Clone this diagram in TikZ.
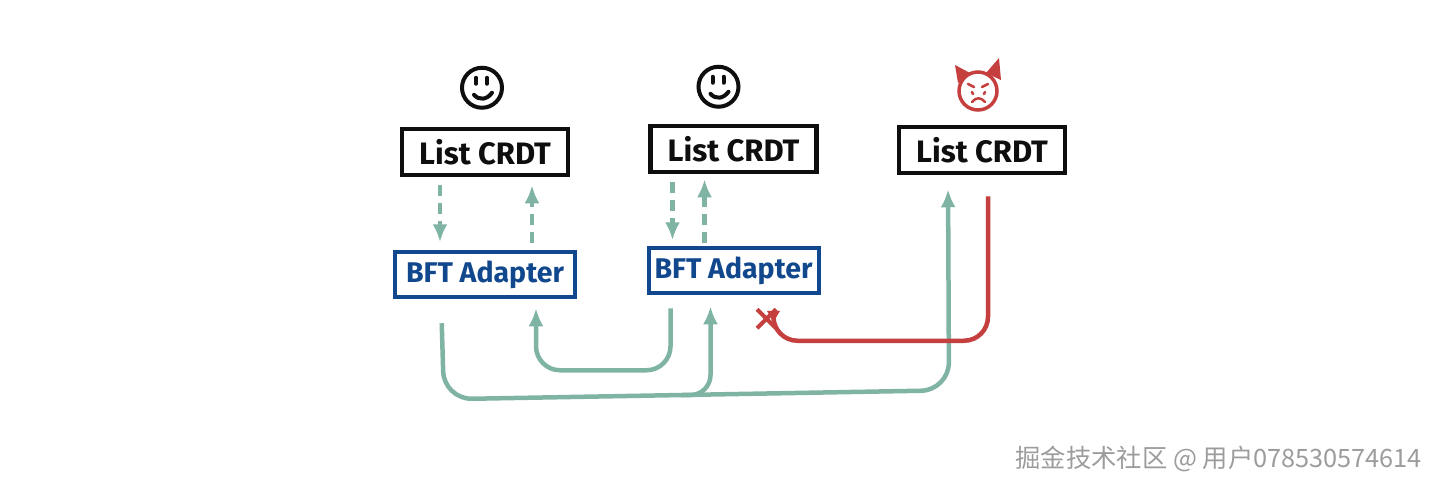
\documentclass[tikz,border=0pt]{standalone}
\usepackage{fontspec}
\setmainfont{Fira Sans}
\newfontfamily\cjk{Noto Sans CJK SC}
\usetikzlibrary{arrows.meta, positioning, shapes.misc}
\definecolor{cInk}{HTML}{0E0E0E}
\definecolor{cBft}{HTML}{11478D}
\definecolor{cLink}{HTML}{7FB3A3}
\definecolor{cEvil}{HTML}{C63F3F}
\definecolor{cMark}{HTML}{9C9C9C}

\begin{document}
\begin{tikzpicture}[x=1pt, y=-1pt, every node/.style={inner sep=0pt},
  crdt/.style={draw=cInk, line width=4.5pt, minimum width=166pt, minimum height=46pt, text=cInk, font=\fontsize{31}{34}\selectfont\bfseries},
  adapter/.style={draw=cBft, line width=4pt, minimum width=180pt, minimum height=45pt, text=cBft, font=\fontsize{28.5}{32}\selectfont\bfseries},
  smile/.style={draw=cInk, circle, line width=4pt, minimum size=40pt},
  devil/.style={draw=cEvil, circle, line width=3.5pt, minimum size=38pt},
  arr/.style={-{Latex[length=18pt, width=15pt]}, cLink, line width=4.5pt},
  dasharr/.style={arr, dashed, dash pattern=on 11pt off 7pt},
  evilarr/.style={-{Latex[length=14pt, width=14pt]}, cEvil, line width=4.5pt}]
  \useasboundingbox (0,0) rectangle (1438,490);
  \node[crdt] (list1) at (485,152) {List CRDT};
  \node[crdt, right=78pt of list1, yshift=3pt] (list2) {List CRDT};
  \node[crdt, right=78pt of list2, yshift=-1pt] (list3) {List CRDT};
  \node[adapter, below=73pt of list1] (bft1) {BFT Adapter};
  \node[adapter, minimum width=170pt, below=72pt of list2] (bft2) {BFT Adapter};
  \node[smile, above=17pt of list1, xshift=-3pt] (face1) {};
  \node[smile, above=15pt of list2, xshift=-15pt] (face2) {};
  \node[devil, above=13pt of list3, xshift=-4pt] (face3) {};
  \node[draw=cEvil, cross out, line width=4pt, minimum size=15pt, below=14pt of bft2, xshift=33pt] (block) {};
  \node[text=cMark, anchor=east, font=\cjk\fontsize{25.3}{28}\selectfont] (mark) at (1422,459) {掘金技术社区 @ 用户078530574614};

  \foreach \f in {face1,face2} {
    \draw[cInk, line width=4pt, line cap=round] ([shift={(-6,-10)}]\f.center) -- ([shift={(-6,-4)}]\f.center);
    \draw[cInk, line width=4pt, line cap=round] ([shift={(5,-10)}]\f.center) -- ([shift={(5,-4)}]\f.center);
    \draw[cInk, line width=4pt, line cap=round] ([shift={(-8,7)}]\f.center) .. controls ([shift={(-3,13)}]\f.center) and ([shift={(5,12)}]\f.center) .. ([shift={(10,5)}]\f.center);
  }
  % horns and angry face
  \fill[cEvil] ([shift={(-20,-8)}]face3.center) -- ([shift={(-23,-26)}]face3.center) -- ([shift={(-8,-18)}]face3.center) -- cycle;
  \fill[cEvil] ([shift={(8,-18)}]face3.center) -- ([shift={(21,-33)}]face3.center) -- ([shift={(23,-11)}]face3.center) -- cycle;
  \draw[cEvil, line width=2.5pt, line cap=round] ([shift={(-10,-7)}]face3.center) -- ([shift={(-4,-4)}]face3.center);
  \draw[cEvil, line width=2.5pt, line cap=round] ([shift={(4,-4)}]face3.center) -- ([shift={(10,-7)}]face3.center);
  \draw[cEvil, line width=2.5pt, line cap=round] ([shift={(-6,1)}]face3.center) -- ([shift={(-5,3)}]face3.center);
  \draw[cEvil, line width=2.5pt, line cap=round] ([shift={(7,1)}]face3.center) -- ([shift={(6,3)}]face3.center);
  \draw[cEvil, line width=2.5pt, line cap=round] ([shift={(-6,11)}]face3.center) .. controls ([shift={(-2,6)}]face3.center) and ([shift={(3,6)}]face3.center) .. ([shift={(7,11)}]face3.center);

  % dashed links between crdt and adapter
  \draw[dasharr, shorten <=8pt, shorten >=8pt] ([xshift=-45pt]list1.south) -- ([xshift=-45pt]bft1.north);
  \draw[dasharr, shorten <=7pt, shorten >=8pt] ([xshift=47pt]bft1.north) -- ([xshift=47pt]list1.south);
  \draw[dasharr, shorten <=8pt, shorten >=6pt] ([xshift=-61pt]list2.south) -- ([xshift=-61pt]bft2.north);
  \draw[dasharr, shorten <=3pt, shorten >=5pt] ([xshift=-29pt]bft2.north) -- ([xshift=-29pt]list2.south);

  % network links
  \draw[arr, rounded corners=24pt, shorten <=13pt, shorten >=9pt] ([xshift=-63pt]bft2.south) -- ++(0,75) -| ([xshift=51pt]bft1.south);
  \draw[arr, rounded corners=28pt, shorten <=24pt, shorten >=14pt] ([xshift=-44pt]bft1.south) -- ++(3,100) -- ++(505,-9) coordinate[pos=0.47] (tap) -- ([xshift=-34pt]list3.south);
  \draw[arr, rounded corners=20pt, shorten >=11pt] (tap) -| ([xshift=-23pt]bft2.south);
  \draw[evilarr, rounded corners=24pt, shorten <=21pt] ([xshift=6pt]list3.south) |- ([shift={(7,22)}]block.center) -- ([shift={(7,6)}]block.center);
\end{tikzpicture}
\end{document}
